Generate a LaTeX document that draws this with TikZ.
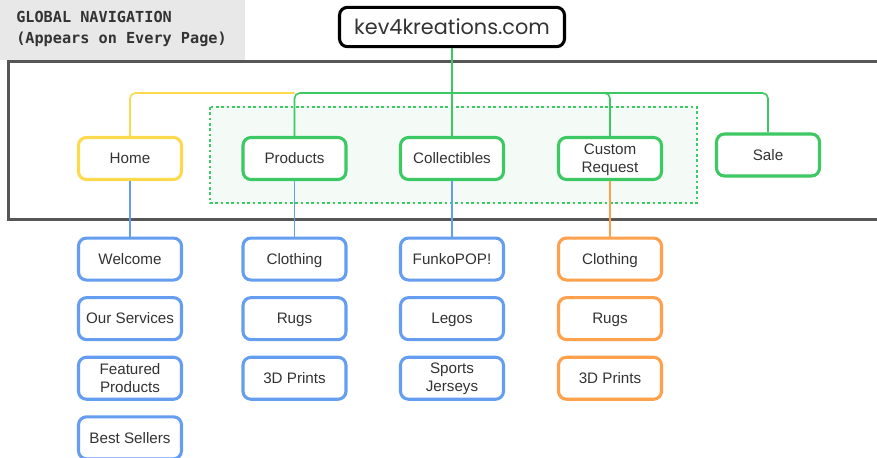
\documentclass[tikz,border=0pt]{standalone}
\usepackage{fontspec}
\setmainfont{Liberation Sans}
\newfontfamily\sitefont{Poppins}
\newfontfamily\titlefont{DejaVu Sans Mono}
\usetikzlibrary{positioning}

\definecolor{navyellow}{HTML}{FDD94E}
\definecolor{navgreen}{HTML}{3CC862}
\definecolor{navblue}{HTML}{659EF0}
\definecolor{navorange}{HTML}{FFA04C}
\definecolor{navframe}{HTML}{575757}
\definecolor{navtitle}{HTML}{E8E8E8}
\definecolor{navfill}{HTML}{F4FBF6}
\definecolor{navtext}{HTML}{333333}

\begin{document}
\begin{tikzpicture}[
  x=0.75pt, y=-0.75pt,
  page/.style={rectangle, rounded corners=6pt, draw, line width=2.3pt, fill=white,
    minimum width=77.25pt, minimum height=31.5pt, inner sep=1pt, align=center,
    text height=8.4pt, text depth=0.4pt,
    text=navtext, font=\fontsize{11.4}{13.5}\selectfont},
  twoline/.style={text height=, text depth=1pt},
  toppage/.style={page, draw=navgreen},
  subpage/.style={page, draw=navblue},
  custompage/.style={page, draw=navorange},
  link/.style={line width=1.2pt, rounded corners=4pt},
  node distance=10.9pt
]
\useasboundingbox (0,0) rectangle (877,457);

% Title tag and global frame
\fill[navtitle] (0,0) rectangle (245,60);
\node[anchor=north west, align=left, inner sep=0pt, text=navtext,
  font=\titlefont\bfseries\fontsize{11.4}{15.8}\selectfont] (title) at (16,11)
  {GLOBAL NAVIGATION\\(Appears on Every Page)};
\draw[navframe, line width=2.4pt] (877,61.5) -- (8.5,61.5) -- (8.5,219.5) -- (877,219.5);
\draw[navgreen, line width=2pt, dotted, fill=navfill] (210,107) rectangle (697,203);

% Site root
\node[draw=black, line width=2.3pt, rounded corners=6pt, fill=white, text=navtext,
  minimum width=168.75pt, minimum height=29.5pt,
  font=\sitefont\fontsize{15.6}{18}\selectfont] (site) at (452,27) {kev4kreations.com};

% Top level pages
\node[page, draw=navyellow] (home) at (130,158.5) {Home};
\node[toppage] (products) at (294.5,158.5) {Products};
\node[toppage] (collect) at (452,158.5) {Collectibles};
\node[toppage, twoline] (custom) at (610,158.5) {Custom\\Request};
\node[toppage] (sale) at (768,155) {Sale};

% Sub pages placed relatively
\node[subpage, below=of home, yshift=-30.7pt] (welcome) {Welcome};
\node[subpage, below=of welcome] (services) {Our Services};
\node[subpage, twoline, below=of services] (featured) {Featured\\Products};
\node[subpage, below=of featured] (best) {Best Sellers};

\node[subpage, below=of products, yshift=-30.7pt] (pclothing) {Clothing};
\node[subpage, below=of pclothing] (prugs) {Rugs};
\node[subpage, below=of prugs] (pprints) {3D Prints};

\node[subpage, below=of collect, yshift=-30.7pt] (funko) {FunkoPOP!};
\node[subpage, below=of funko] (legos) {Legos};
\node[subpage, twoline, below=of legos] (jerseys) {Sports\\Jerseys};

\node[custompage, below=of custom, yshift=-30.7pt] (cclothing) {Clothing};
\node[custompage, below=of cclothing] (crugs) {Rugs};
\node[custompage, below=of crugs] (cprints) {3D Prints};

% Navigation bus
\coordinate (bus) at (452,93);
\draw[link, navyellow] (home.north) |- (products.north |- bus);
\draw[link, navgreen] (products.north) |- (bus) -| (sale.north);
\draw[link, navgreen] (bus) -| (custom.north);
\draw[link, navgreen] (site.south) -- (collect.north);

% Drop downs
\draw[link, navblue] (home.south) -- (welcome.north);
\draw[link, navblue] (products.south) -- (pclothing.north);
\draw[link, navblue] (collect.south) -- (funko.north);
\draw[link, navorange] (custom.south) -- (cclothing.north);

\end{tikzpicture}
\end{document}
